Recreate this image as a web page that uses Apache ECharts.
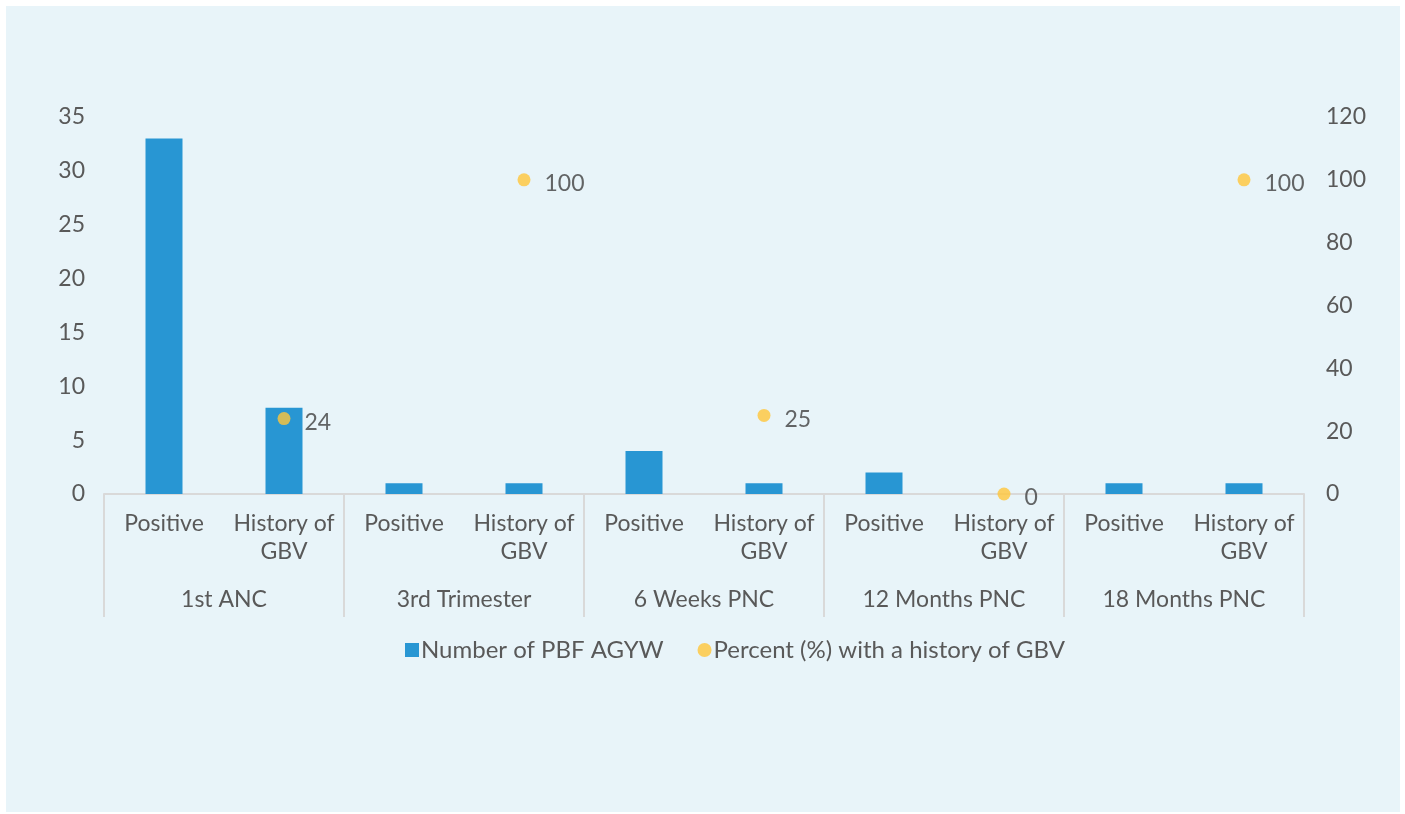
<!DOCTYPE html>
<html><head><meta charset="utf-8">
<script src="https://cdn.jsdelivr.net/npm/echarts@6/dist/echarts.min.js"></script>
<style>html,body{margin:0;padding:0;background:#fff;}#c{width:1405px;height:814px;}</style>
</head><body><div id="c"></div>
<script>
const groups = ['1st ANC','3rd Trimester','6 Weeks PNC','12 Months PNC','18 Months PNC'];
const subCategories = ['Positive','History of\nGBV'];
const numberPBF = [33,8,1,1,4,1,2,0,1,1];
const percentGBV = [24,100,25,0,100];
const leftTicks = [0,5,10,15,20,25,30,35];
const rightTicks = [0,20,40,60,80,100,120];

const cats = [];
groups.forEach(g => subCategories.forEach(s => cats.push(s)));
const pctData = [];
groups.forEach((g,i) => { pctData.push('-'); pctData.push(percentGBV[i]); });

const FONT = 'Lato';
const FS = 23;
const chart = echarts.init(document.getElementById('c'));
chart.setOption({
  animation:false,
  textStyle:{fontFamily:FONT},
  graphic:[{type:'rect',shape:{x:6,y:6,width:1394,height:806},style:{fill:'#E8F4F9'},z:-10}],
  grid:{left:104,right:101,top:117,bottom:320},
  legend:{
    bottom:147, left:400, itemGap:34, itemWidth:14, itemHeight:14,
    textStyle:{fontFamily:FONT,fontSize:24,color:'#595959',padding:[0,0,0,-3]},
    data:[{name:'Number of PBF AGYW',icon:'rect'},{name:'Percent (%) with a history of GBV',icon:'circle'}]
  },
  xAxis:[{
    type:'category', data:cats, position:'bottom',
    axisLine:{lineStyle:{color:'#D9D9D9',width:2}},
    axisTick:{show:true,length:123,interval:function(i){return i%2===0;},lineStyle:{color:'#D9D9D9',width:2}},
    axisLabel:{interval:0,margin:16,fontSize:FS,color:'#595959',lineHeight:28,fontFamily:FONT}
  },{
    type:'category', data:groups, position:'bottom', offset:90,
    axisLine:{show:false}, axisTick:{show:false},
    axisLabel:{interval:0,margin:4,fontSize:FS,color:'#595959',fontFamily:FONT}
  }],
  yAxis:[{
    type:'value',min:0,max:35,interval:5,
    axisLine:{show:false},axisTick:{show:false},splitLine:{show:false},
    axisLabel:{margin:19,fontSize:FS,color:'#595959',fontFamily:FONT}
  },{
    type:'value',min:0,max:120,interval:20,position:'right',
    axisLine:{show:false},axisTick:{show:false},splitLine:{show:false},
    axisLabel:{margin:22,fontSize:FS,color:'#595959',fontFamily:FONT}
  }],
  series:[{
    name:'Number of PBF AGYW',type:'bar',data:numberPBF,xAxisIndex:0,yAxisIndex:0,
    barWidth:37,itemStyle:{color:'#2896D3'}
  },{
    name:'Percent (%) with a history of GBV',type:'scatter',data:pctData,xAxisIndex:0,yAxisIndex:1,
    symbolSize:13,itemStyle:{color:'#FFC53A'},
    label:{show:true,position:'right',distance:14,fontSize:FS,color:'#404040',fontFamily:FONT,offset:[0,4]}
  }]
});
</script></body></html>
